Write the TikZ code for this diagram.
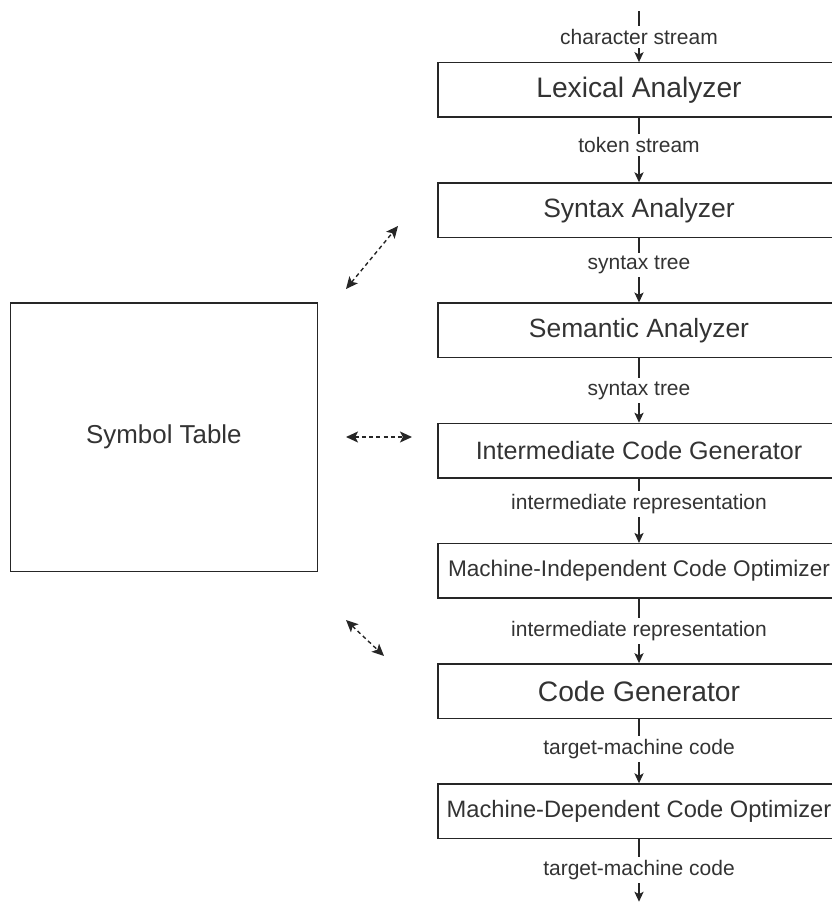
\documentclass[tikz,border=0pt]{standalone}
\usepackage{fontspec}
\setmainfont{Liberation Sans}
\usetikzlibrary{shapes,positioning,arrows.meta,calc}

\begin{document}
\begin{tikzpicture}[node distance=32.2pt,
            phase/.style={
                rectangle, draw=black!85, line width=0.7pt, text=black!80,
                minimum width=201pt, minimum height=27.2pt, inner sep=0pt},
            symtab/.style={
                rectangle, draw=black!85, line width=0.7pt, text=black!80,
                minimum width=153.7pt, minimum height=134pt, inner sep=0pt},
            flow/.style={draw=black!85, line width=0.6pt,
                -{Stealth[length=5pt,width=4.6pt,inset=1.2pt]}},
            lbl/.style={fill=white, inner sep=1.6pt, text=black!80,
                font=\fontsize{10.5}{12}\selectfont},
            link/.style={draw=black!85, line width=0.7pt, dash pattern=on 2pt off 1.6pt,
                {Stealth[length=6pt,width=5.5pt,inset=1.4pt]}-{Stealth[length=6pt,width=5.5pt,inset=1.4pt]}}]

            \useasboundingbox (0,0) rectangle (415.5pt,-451.5pt);

            % compiler phases
            \node [phase,font=\fontsize{14.1}{16}\selectfont] (lex) at (319.5pt,-45pt) {Lexical Analyzer};
            \node [phase,font=\fontsize{13.25}{16}\selectfont,below=of lex] (syn) {Syntax Analyzer};
            \node [phase,font=\fontsize{13.2}{16}\selectfont,below=of syn] (sem) {Semantic Analyzer};
            \node [phase,font=\fontsize{12.55}{15}\selectfont,below=of sem] (icg) {Intermediate Code Generator};
            \node [phase,font=\fontsize{11.3}{14}\selectfont,below=of icg] (mio) {Machine-Independent Code Optimizer};
            \node [phase,font=\fontsize{14.1}{16}\selectfont,below=of mio] (cg) {Code Generator};
            \node [phase,font=\fontsize{11.85}{14}\selectfont,below=of cg] (mdo) {Machine-Dependent Code Optimizer};

            \node [symtab,font=\fontsize{12.95}{15}\selectfont,left=59.5pt of sem.north west,anchor=north east] (sym) {Symbol Table};

            \coordinate [above=25.5pt of lex.north] (src);
            \coordinate [below=31.3pt of mdo.south] (sink);

            % stream between the phases
            \draw [flow] (src) -- node[lbl] {character stream} (lex);
            \draw [flow] (lex) -- node[lbl,pos=0.42] {token stream} (syn);
            \draw [flow] (syn) -- node[lbl,pos=0.42] {syntax tree} (sem);
            \draw [flow] (sem) -- node[lbl,pos=0.5] {syntax tree} (icg);
            \draw [flow] (icg) -- node[lbl,pos=0.4] {intermediate representation} (mio);
            \draw [flow] (mio) -- node[lbl,pos=0.5] {intermediate representation} (cg);
            \draw [flow] (cg) -- node[lbl,pos=0.47] {target-machine code} (mdo);
            \draw [flow] (mdo) -- node[lbl,pos=0.5] {target-machine code} (sink);

            % symbol table access
            \coordinate (t1) at (173pt,-144.5pt);
            \coordinate (p1) at (199pt,-113pt);
            \coordinate (t2) at (173pt,-218.5pt);
            \coordinate (p2) at (206pt,-218.5pt);
            \coordinate (t3) at (173pt,-310pt);
            \coordinate (p3) at (192pt,-328pt);
            \draw [link] (t1) -- (p1);
            \draw [link] (t2) -- (p2);
            \draw [link] (t3) -- (p3);

        \end{tikzpicture}
\end{document}
